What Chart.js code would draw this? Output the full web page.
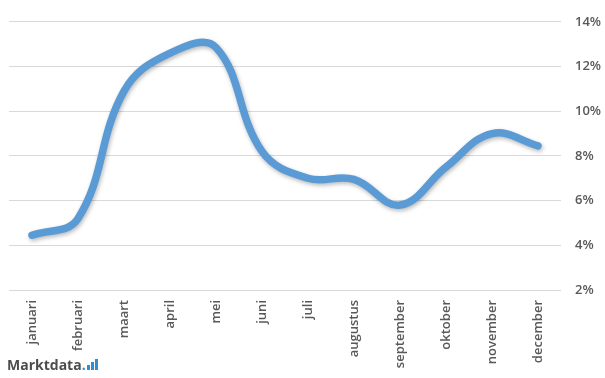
<!DOCTYPE html>
<html>
<head>
<meta charset="utf-8">
<script src="https://cdn.jsdelivr.net/npm/chart.js@4.4.1/dist/chart.umd.min.js"></script>
<style>
  html, body { margin: 0; padding: 0; background: #fff; }
  #wrap { position: relative; width: 605px; height: 378px; overflow: hidden; }
  #logo {
    position: absolute; left: 7px; top: 355px;
    font-family: "Open Sans", sans-serif; font-weight: 700; font-size: 14px;
    color: #4d4d4d;
  }
  #logo .dot { color: #2d8fd5; }
  #logo .bars { display: inline-block; vertical-align: baseline; margin-left: 1px; }
  #logo .bars i { display: inline-block; width: 3px; background: #2d8fd5; margin-right: 1px; }
</style>
</head>
<body>
<div id="wrap">
  <canvas id="maandChart" width="605" height="378"></canvas>
  <div id="logo">Marktdata<span class="dot">.</span><span class="bars"><i style="height:5px"></i><i style="height:8px"></i><i style="height:11px"></i></span></div>
</div>
<script>
// Data per maand (percentage)
const maanden = ["januari", "februari", "maart", "april", "mei", "juni", "juli",
                 "augustus", "september", "oktober", "november", "december"];
const waarden = [4.45, 5.2, 10.9, 12.6, 12.85, 8.2, 7.0, 6.95, 5.8, 7.5, 9.0, 8.45];
const yTicks = [2, 4, 6, 8, 10, 12, 14];

// Shadow under the line, like the Excel original
const lineShadow = {
    id: 'lineShadow',
    beforeDatasetsDraw(chart) {
        const ctx = chart.ctx;
        ctx.save();
        ctx.shadowColor = 'rgba(0,0,0,0.28)';
        ctx.shadowBlur = 4;
        ctx.shadowOffsetX = 1;
        ctx.shadowOffsetY = 2;
    },
    afterDatasetsDraw(chart) {
        chart.ctx.restore();
    }
};

const tickFont = { family: 'Open Sans', size: 13, weight: '600' };

const ctx = document.getElementById('maandChart').getContext('2d');
new Chart(ctx, {
    type: 'line',
    data: {
        labels: maanden,
        datasets: [{
            data: waarden,
            borderColor: '#5b9bd5',
            borderWidth: 7.5,
            borderCapStyle: 'round',
            borderJoinStyle: 'round',
            tension: 0.4,
            fill: false,
            pointRadius: 0
        }]
    },
    options: {
        responsive: false,
        animation: false,
        layout: { padding: { top: 14, right: 4, bottom: 6, left: 9 } },
        plugins: {
            legend: { display: false },
            tooltip: { enabled: false }
        },
        scales: {
            x: {
                offset: true,
                grid: { display: false, drawTicks: false },
                border: { display: false },
                afterFit(axis) { axis.height = 82; },
                ticks: {
                    minRotation: 90,
                    maxRotation: 90,
                    autoSkip: false,
                    padding: 10,
                    color: '#595959',
                    font: tickFont
                }
            },
            y: {
                position: 'right',
                min: 2,
                max: 14,
                afterBuildTicks(axis) {
                    axis.ticks = yTicks.map(v => ({ value: v }));
                },
                afterFit(axis) { axis.width = 40; },
                grid: { color: '#d9d9d9', lineWidth: 1, drawTicks: false },
                border: { display: false },
                ticks: {
                    padding: 14,
                    color: '#595959',
                    font: tickFont,
                    callback: v => v + '%'
                }
            }
        }
    },
    plugins: [lineShadow]
});
</script>
</body>
</html>
